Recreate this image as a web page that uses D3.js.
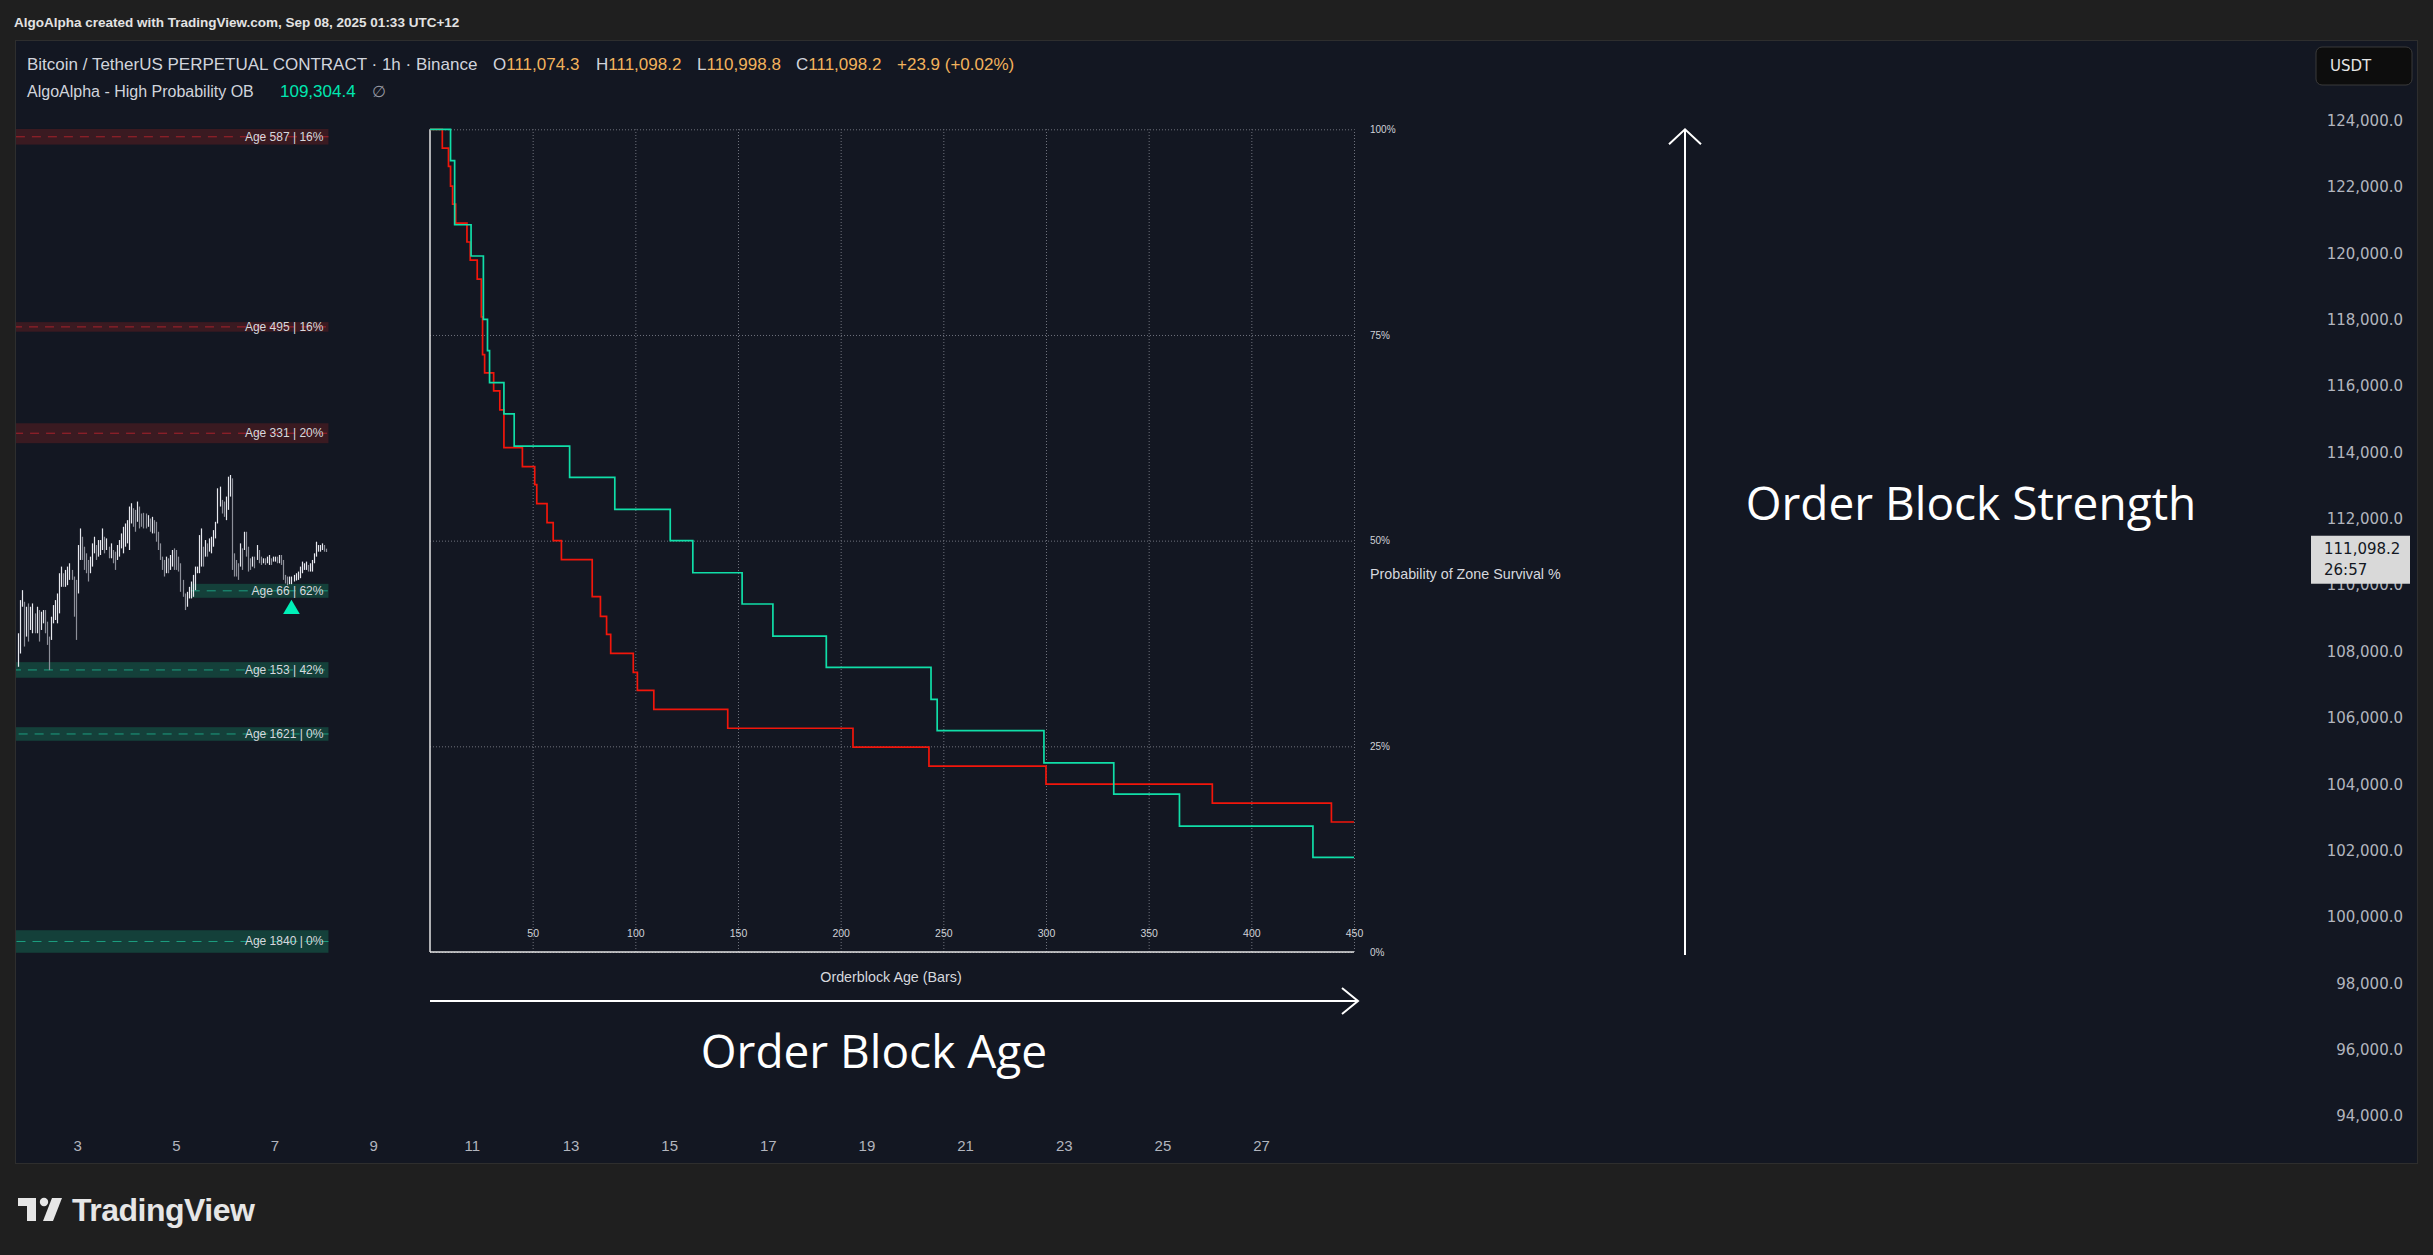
<!DOCTYPE html>
<html>
<head>
<meta charset="utf-8">
<script src="https://cdn.jsdelivr.net/npm/d3@7"></script>
<style>
  body { margin: 0; background: #1f1f1f; overflow: hidden; }
</style>
</head>
<body>
<svg id="chart"></svg>
<script>
// ---- data ----
var priceTicks = [94000, 96000, 98000, 100000, 102000, 104000, 106000, 108000, 110000,
                  112000, 114000, 116000, 118000, 120000, 122000, 124000];
var dayTicks = [3, 5, 7, 9, 11, 13, 15, 17, 19, 21, 23, 25, 27];
var ageTicks = [50, 100, 150, 200, 250, 300, 350, 400, 450];
var probTicks = [0, 25, 50, 75, 100];

var legendOHLC = [111074.3, 111098.2, 110998.8, 111098.2];
var legendChange = ['+23.9', '(+0.02%)'];
var indicatorValue = 109304.4;
var lastPrice = 111098.2;
var countdown = '26:57';

// hourly bars, last one at Sep 8 01:00
var barHigh = [108550,109550,109850,109500,109350,109450,109350,109450,109150,109350,
  109250,109200,109250,109250,108900,108450,109050,109400,109550,109750,
  110360,110560,110360,110460,110560,110660,110460,110260,
  110160,111210,111710,111460,111160,110960,110760,110860,111260,111460,
  111210,111360,111360,111710,111460,111410,111160,111260,111060,111010,
  111210,111360,111560,111760,111860,111960,112370,112470,112320,112270,
  112520,112370,112160,112180,112160,112110,112010,112060,111960,111910,
  111610,111260,110860,110760,110860,110810,110910,111060,111110,111060,
  110860,110660,110160,109750,109800,109950,110110,110310,110560,110560,
  111510,111710,111160,111360,111260,111410,111460,111660,111910,112920,
  112970,112570,112520,112670,113270,113320,113220,110960,110760,110660,
  111260,111110,111610,111610,111160,110810,110860,110860,111210,
  111060,110860,110810,110810,110860,110910,110810,110860,110860,
  110860,110910,110910,110760,110310,110260,110260,110260,110310,
  110360,110410,110560,110710,110660,110710,110610,110660,110760,110960,
  111310,111210,111210,111260,111210,111100];
var barLow = [107540,107940,109350,108150,108450,108300,108650,108550,108550,108550,
  108300,108650,108850,108550,108200,107440,108350,108850,108950,108850,
  109150,109950,109950,109950,110000,110160,110160,109050,
  108350,109750,110760,110760,110460,110360,110110,110360,110560,110960,
  110760,110860,110910,111060,110960,111060,110810,110810,110660,110460,
  110760,110860,111110,110960,111160,111260,111060,111860,111760,111610,
  111910,111710,111760,111710,111710,111760,111610,111560,111560,111310,
  111060,110760,110460,110260,110360,110360,110460,110560,110460,110460,
  110410,109800,109650,109250,109350,109600,109600,109650,109850,110360,
  110360,110560,110560,110860,110860,111010,110960,111160,111410,111860,
  112370,112160,112060,111960,112270,112670,110460,110260,110260,110160,
  110560,110460,111060,110860,110410,110460,110560,110510,110760,
  110660,110610,110660,110610,110660,110610,110610,110710,110710,
  110660,110660,110610,110160,110050,110000,110030,110030,110110,
  110140,110160,110210,110360,110460,110460,110410,110410,110410,110660,
  110860,111010,111010,111060,111010,111000];

var zoneAge = [587, 495, 331, 66, 153, 1621, 1840];
var zoneProb = [16, 16, 20, 62, 42, 0, 0];
var zoneSide = ['bear', 'bear', 'bear', 'bull', 'bull', 'bull', 'bull'];
var zoneTop = [123750, 117930, 114880, 110040, 107680, 105720, 99600];
var zoneBottom = [123280, 117640, 114280, 109620, 107210, 105310, 98920];

// survival curves (age in bars, probability %)
var bullAge = [0, 10, 12, 20, 26, 28, 29, 36, 41, 68, 90, 117, 128, 152, 167, 193, 244, 247, 299, 333, 365, 430, 450];
var bullProb = [100, 96.2, 88.4, 84.6, 76.9, 73.1, 69.2, 65.4, 61.5, 57.7, 53.8, 50.0, 46.1, 42.3, 38.4, 34.6, 30.7, 26.9, 23.0, 19.2, 15.3, 11.5, 11.5];
var bearAge = [0, 6, 9, 10, 11, 12.5, 18, 19.6, 23, 25, 25.6, 26.6, 31, 34, 36, 45, 51, 52, 57, 60, 64, 79, 83, 86, 88, 99, 101, 109, 145, 206, 243, 300, 381, 439, 450];
var bearProb = [100, 97.7, 95.5, 93.1, 90.9, 88.6, 86.3, 84.1, 81.8, 77.2, 72.6, 70.4, 68.2, 65.9, 61.3, 59.0, 56.8, 54.5, 52.2, 50.0, 47.7, 43.2, 40.8, 38.6, 36.3, 34.0, 31.8, 29.5, 27.2, 24.9, 22.6, 20.4, 18.1, 15.8, 15.8];

var HOUR = 3600e3;
var lastBar = Date.UTC(2025, 8, 8, 1);
var firstBar = lastBar - (barHigh.length - 1) * HOUR;
var signalTime = Date.UTC(2025, 8, 7, 8);

// ---- setup ----
var width = 2433, height = 1255;
var uiFont = '"Liberation Sans", Arial, sans-serif';
var axisFont = '"DejaVu Sans", Verdana, sans-serif';
var bull = '#10dea8', bear = '#f2160b';
var gridColor = '#6f727d';

var svg = d3.select('#chart').attr('width', width).attr('height', height);

svg.append('rect').attr('width', width).attr('height', height).attr('fill', '#1f1f1f');
svg.append('rect')
  .attr('x', 15.5).attr('y', 40.5).attr('width', 2402).attr('height', 1123)
  .attr('fill', '#131722').attr('stroke', '#2e2e2e');

var x = d3.scaleUtc()
  .domain([new Date(Date.UTC(2025, 8, 3)), new Date(Date.UTC(2025, 8, 27))])
  .range([77.7, 1261.6]);
var y = d3.scaleLinear().domain([94000, 124000]).range([1116, 120.7]);

var ageX = d3.scaleLinear().domain([0, 450]).range([430, 1354]);
var probY = d3.scaleLinear().domain([0, 100]).range([952, 129.3]);

svg.append('clipPath').attr('id', 'pane')
  .append('rect').attr('x', 16).attr('y', 41).attr('width', 2280).attr('height', 1060);

// ---- header ----
svg.append('text')
  .attr('x', 14).attr('y', 22).attr('dominant-baseline', 'central')
  .style('font', 'bold 13.5px ' + uiFont).attr('fill', '#e3e3e3')
  .text('AlgoAlpha created with TradingView.com, Sep 08, 2025 01:33 UTC+12');

var fmt1 = d3.format(',.1f');
var legend = svg.append('g').style('font', '17px ' + uiFont).attr('fill', '#d1d4dc');
legend.append('text')
  .attr('x', 27).attr('y', 64).attr('dominant-baseline', 'central')
  .text('Bitcoin / TetherUS PERPETUAL CONTRACT \u00b7 1h \u00b7 Binance');
var ohlcX = [493, 596, 697, 796];
['O', 'H', 'L', 'C'].forEach(function (k, i) {
  var t = legend.append('text')
    .attr('x', ohlcX[i]).attr('y', 64).attr('dominant-baseline', 'central');
  t.append('tspan').text(k);
  t.append('tspan').attr('fill', '#f2b25c').text(fmt1(legendOHLC[i]));
});
legend.append('text')
  .attr('x', 897).attr('y', 64).attr('dominant-baseline', 'central')
  .attr('fill', '#f2b25c').text(legendChange.join(' '));

var legend2 = svg.append('g').style('font', '16px ' + uiFont).attr('fill', '#d1d4dc');
legend2.append('text')
  .attr('x', 27).attr('y', 91).attr('dominant-baseline', 'central')
  .text('AlgoAlpha - High Probability OB');
legend2.append('text')
  .attr('x', 280).attr('y', 91).attr('dominant-baseline', 'central')
  .style('font-size', '17px')
  .attr('fill', '#00e6b0').text(fmt1(indicatorValue));
legend2.append('text')
  .attr('x', 372).attr('y', 91).attr('dominant-baseline', 'central')
  .attr('fill', '#9598a1').text('\u2205');

// ---- order block zones ----
var pane = svg.append('g').attr('clip-path', 'url(#pane)');
var zoneEnd = x(new Date(lastBar + HOUR));

zoneAge.forEach(function (age, i) {
  var x0 = x(new Date(lastBar - age * HOUR));
  var yt = y(zoneTop[i]), yb = y(zoneBottom[i]);
  var isBull = zoneSide[i] === 'bull';
  pane.append('rect')
    .attr('x', x0).attr('y', yt).attr('width', zoneEnd - x0).attr('height', yb - yt)
    .attr('fill', isBull ? '#14403a' : '#3a1a21');
  var ym = y((zoneTop[i] + zoneBottom[i]) / 2);
  pane.append('line')
    .attr('x1', x0).attr('x2', zoneEnd).attr('y1', ym).attr('y2', ym)
    .attr('stroke', isBull ? '#1d9d80' : '#a8222b').attr('stroke-dasharray', '9,7');
});

// ---- price bars ----
var bars = barHigh.map(function (h, i) {
  return { t: new Date(firstBar + i * HOUR), h: h, l: barLow[i] };
});
pane.selectAll('line.bar')
  .data(bars)
  .join('line')
  .attr('class', 'bar')
  .attr('x1', function (d) { return Math.round(x(d.t)) + 0.5; })
  .attr('x2', function (d) { return Math.round(x(d.t)) + 0.5; })
  .attr('y1', function (d) { return y(d.h); })
  .attr('y2', function (d) { return y(d.l); })
  .attr('stroke', function (d, i) {
    if (i === 0) return '#e6e8ee';
    var p = bars[i - 1];
    return (d.h + d.l) >= (p.h + p.l) ? '#e6e8ee' : '#8c8f99';
  })
  .attr('stroke-width', 1.2);

// zone labels on top of bars
zoneAge.forEach(function (age, i) {
  pane.append('text')
    .attr('x', zoneEnd - 5)
    .attr('y', y((zoneTop[i] + zoneBottom[i]) / 2))
    .attr('text-anchor', 'end').attr('dominant-baseline', 'central')
    .style('font', '12px ' + uiFont).attr('fill', '#d6d8de')
    .text('Age ' + age + ' | ' + zoneProb[i] + '%');
});

// signal triangle
pane.append('path')
  .attr('d', d3.symbol(d3.symbolTriangle, 120)())
  .attr('transform', 'translate(' + x(new Date(signalTime)) + ',' + (y(indicatorValue) + 1) + ')')
  .attr('fill', '#00f0b8');

// ---- survival chart ----
var surv = svg.append('g');

surv.append('g')
  .attr('transform', 'translate(0,' + probY(0) + ')')
  .call(d3.axisBottom(ageX).tickValues(ageTicks).tickSize(-(probY(0) - probY(100))).tickFormat(d3.format('d')))
  .call(function (a) {
    a.select('.domain').remove();
    a.selectAll('line').attr('stroke', gridColor).attr('stroke-dasharray', '1,2');
    a.selectAll('text').attr('y', -18).attr('dy', '0.32em')
      .attr('fill', '#d0d2d8').style('font', '10.5px ' + uiFont);
  });

surv.append('g')
  .attr('transform', 'translate(' + ageX(0) + ',0)')
  .call(d3.axisRight(probY).tickValues(probTicks).tickSize(ageX(450) - ageX(0)).tickPadding(16)
    .tickFormat(function (d) { return d + '%'; }))
  .call(function (a) {
    a.select('.domain').remove();
    a.selectAll('line').attr('stroke', gridColor).attr('stroke-dasharray', '1,2');
    a.selectAll('text').attr('fill', '#d0d2d8').style('font', '10px ' + uiFont);
  });

surv.append('line')
  .attr('x1', ageX(0)).attr('x2', ageX(0)).attr('y1', probY(0)).attr('y2', probY(100))
  .attr('stroke', '#e4e4e4').attr('stroke-width', 1.5);
surv.append('line')
  .attr('x1', ageX(0)).attr('x2', ageX(450)).attr('y1', probY(0)).attr('y2', probY(0))
  .attr('stroke', '#e4e4e4').attr('stroke-width', 1.5);

var step = d3.line()
  .curve(d3.curveStepAfter)
  .x(function (d) { return ageX(d[0]); })
  .y(function (d) { return probY(d[1]); });

surv.append('path')
  .datum(d3.zip(bearAge, bearProb))
  .attr('d', step).attr('fill', 'none').attr('stroke', bear).attr('stroke-width', 1.7);
surv.append('path')
  .datum(d3.zip(bullAge, bullProb))
  .attr('d', step).attr('fill', 'none').attr('stroke', bull).attr('stroke-width', 1.7);

surv.append('text')
  .attr('x', 1370).attr('y', 574).attr('dominant-baseline', 'central')
  .style('font', '14.3px ' + uiFont).attr('fill', '#d6d8de')
  .text('Probability of Zone Survival %');
surv.append('text')
  .attr('x', 891).attr('y', 977).attr('text-anchor', 'middle').attr('dominant-baseline', 'central')
  .style('font', '14.3px ' + uiFont).attr('fill', '#d6d8de')
  .text('Orderblock Age (Bars)');

// ---- annotation arrows ----
var ann = svg.append('g').attr('stroke', '#ffffff').attr('stroke-width', 2).attr('fill', 'none');
var hx = ageX(450) + 4, hy = 1001;
ann.append('path').attr('d', 'M' + ageX(0) + ',' + hy + 'H' + hx);
ann.append('path').attr('d', 'M' + (hx - 16) + ',' + (hy - 13) + 'L' + hx + ',' + hy + 'L' + (hx - 16) + ',' + (hy + 13));
var vx = 1685, vy = probY(100);
ann.append('path').attr('d', 'M' + vx + ',' + (probY(0) + 3) + 'V' + vy);
ann.append('path').attr('d', 'M' + (vx - 16) + ',' + (vy + 15) + 'L' + vx + ',' + vy + 'L' + (vx + 16) + ',' + (vy + 15));

svg.append('text')
  .attr('x', 874).attr('y', 1050).attr('text-anchor', 'middle').attr('dominant-baseline', 'central')
  .style('font', '46px "Open Sans", sans-serif').attr('fill', '#ffffff')
  .text('Order Block Age');
svg.append('text')
  .attr('x', 1971).attr('y', 502).attr('text-anchor', 'middle').attr('dominant-baseline', 'central')
  .style('font', '46px "Open Sans", sans-serif').attr('fill', '#ffffff')
  .text('Order Block Strength');

// ---- time axis ----
svg.append('g')
  .selectAll('text')
  .data(dayTicks)
  .join('text')
  .attr('x', function (d) { return x(new Date(Date.UTC(2025, 8, d))); })
  .attr('y', 1145)
  .attr('text-anchor', 'middle').attr('dominant-baseline', 'central')
  .style('font', '15px ' + uiFont).attr('fill', '#b2b5be')
  .text(function (d) { return d; });

// ---- price axis ----
svg.append('g')
  .attr('transform', 'translate(2403,0)')
  .call(d3.axisLeft(y).tickValues(priceTicks).tickSize(0).tickPadding(0).tickFormat(fmt1))
  .call(function (a) {
    a.select('.domain').remove();
    a.selectAll('text').attr('fill', '#b2b5be').style('font', '15px ' + axisFont);
  });

// currency button
svg.append('rect')
  .attr('x', 2316).attr('y', 47).attr('width', 96).attr('height', 38).attr('rx', 6)
  .attr('fill', '#0d0d0d').attr('stroke', '#3a3a3a');
svg.append('text')
  .attr('x', 2330).attr('y', 66).attr('dominant-baseline', 'central')
  .style('font', '15px ' + axisFont).attr('fill', '#e6e6e6')
  .text('USDT');

// last price label
var ly = y(lastPrice);
svg.append('rect')
  .attr('x', 2311).attr('y', ly - 13).attr('width', 99).attr('height', 48)
  .attr('fill', '#d9d9d9');
svg.append('text')
  .attr('x', 2324).attr('y', ly).attr('dominant-baseline', 'central')
  .style('font', '15px ' + axisFont).attr('fill', '#131722')
  .text(fmt1(lastPrice));
svg.append('text')
  .attr('x', 2324).attr('y', ly + 21).attr('dominant-baseline', 'central')
  .style('font', '15px ' + axisFont).attr('fill', '#131722')
  .text(countdown);

// ---- TradingView logo ----
var logo = svg.append('g').attr('fill', '#e6e6e6');
logo.append('path').attr('d', 'M18,1198H36V1221H27V1206H18Z');
logo.append('circle').attr('cx', 44).attr('cy', 1202).attr('r', 4.2);
logo.append('path').attr('d', 'M52,1198H62L53,1221H43Z');
svg.append('text')
  .attr('x', 72).attr('y', 1210).attr('dominant-baseline', 'central')
  .style('font', 'bold 32px ' + uiFont).attr('fill', '#e6e6e6')
  .attr('letter-spacing', -0.5)
  .text('TradingView');
</script>
</body>
</html>
